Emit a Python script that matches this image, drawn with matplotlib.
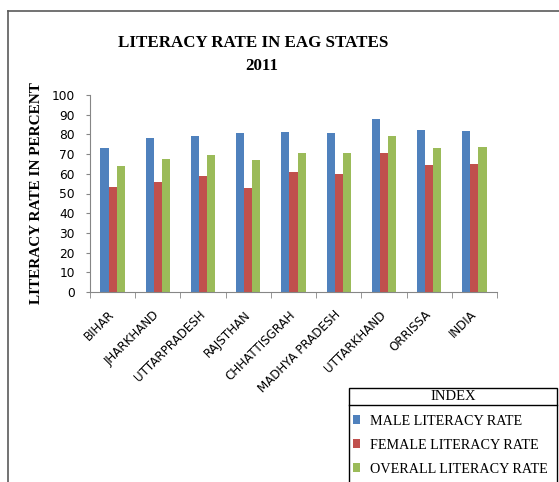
import matplotlib.pyplot as plt
import numpy as np
from matplotlib.lines import Line2D
from matplotlib.patches import Rectangle

# dados
states = ['BIHAR', 'JHARKHAND', 'UTTARPRADESH', 'RAJSTHAN', 'CHHATTISGRAH',
          'MADHYA PRADESH', 'UTTARKHAND', 'ORRISSA', 'INDIA']
male = [73.2, 78.0, 79.3, 80.5, 81.0, 80.5, 88.0, 82.4, 81.9]
female = [53.4, 55.9, 59.0, 52.7, 60.7, 60.0, 70.7, 64.4, 65.1]
overall = [63.9, 67.6, 69.3, 66.9, 70.8, 70.7, 79.3, 73.1, 73.7]
series_names = ['MALE LITERACY RATE', 'FEMALE LITERACY RATE', 'OVERALL LITERACY RATE']
colors = ['#4F81BD', '#C0504D', '#9BBB59']

serif = 'Liberation Serif'
sans = 'DejaVu Sans'
W, H = 559, 482

fig = plt.figure(figsize=(W / 100, H / 100), dpi=100)
ax = fig.add_axes([90 / W, 1 - 292 / H, 407 / W, 197 / H])

x = np.arange(len(states))
bw = 0.18
bars = []
for i, (vals, c) in enumerate(zip([male, female, overall], colors)):
    b = ax.bar(x + (i - 1) * bw, vals, bw, color=c, label=series_names[i])
    bars.append(b)

ax.set_xlim(-0.5, len(states) - 0.5)
ax.set_ylim(0, 100)
ax.set_yticks(range(0, 101, 10))
ax.set_yticklabels([str(v) for v in range(0, 101, 10)], fontsize=8.8, family=sans)
ax.set_xticks(x)
ax.set_xticklabels(states, rotation=45, ha='right', va='center', rotation_mode='anchor',
                   fontsize=8.6, family=sans)
ax.tick_params(axis='x', length=0, pad=15)
ax.set_xticks(np.arange(-0.5, len(states)), minor=True)
ax.tick_params(axis='x', which='minor', length=4, color='#868686')
ax.tick_params(axis='y', length=3, color='#868686', pad=8)
for s in ['top', 'right']:
    ax.spines[s].set_visible(False)
for s in ['left', 'bottom']:
    ax.spines[s].set_color('#868686')

ax.set_ylabel('LITERACY RATE IN PERCENT', family=serif, fontweight='bold',
              fontsize=11, labelpad=6)

fig.text(253 / W, 1 - 43 / H, 'LITERACY RATE IN EAG STATES', ha='center', va='center',
         family=serif, fontweight='bold', fontsize=12.2)
fig.text(262 / W, 1 - 66 / H, '2011', ha='center', va='center',
         family=serif, fontweight='bold', fontsize=12.2)

# borda externa
fig.add_artist(Line2D([8 / W, 8 / W], [0, 1 - 11 / H], color='#5a5a5a', lw=1.2))
fig.add_artist(Line2D([8 / W, 1], [1 - 11 / H, 1 - 11 / H], color='#5a5a5a', lw=1.2))

# legenda
fig.add_artist(Rectangle((349 / W, -0.01), 208 / W, 1 - 388 / H + 0.01,
                         transform=fig.transFigure, fill=False, ec='black', lw=1))
fig.add_artist(Line2D([349 / W, 557 / W], [1 - 405 / H, 1 - 405 / H], color='black', lw=1))
fig.text(453 / W, 1 - 397 / H, 'INDEX', ha='center', va='center', family=serif, fontsize=10.5)
leg = fig.legend(handles=bars, loc='upper left', bbox_to_anchor=(347 / W, 1 - 409 / H),
                 frameon=False, prop={'family': serif, 'size': 10.2},
                 handlelength=0.55, handleheight=0.55, handletextpad=0.7,
                 labelspacing=0.78, borderaxespad=0)

fig.savefig('out.png', dpi=100)
